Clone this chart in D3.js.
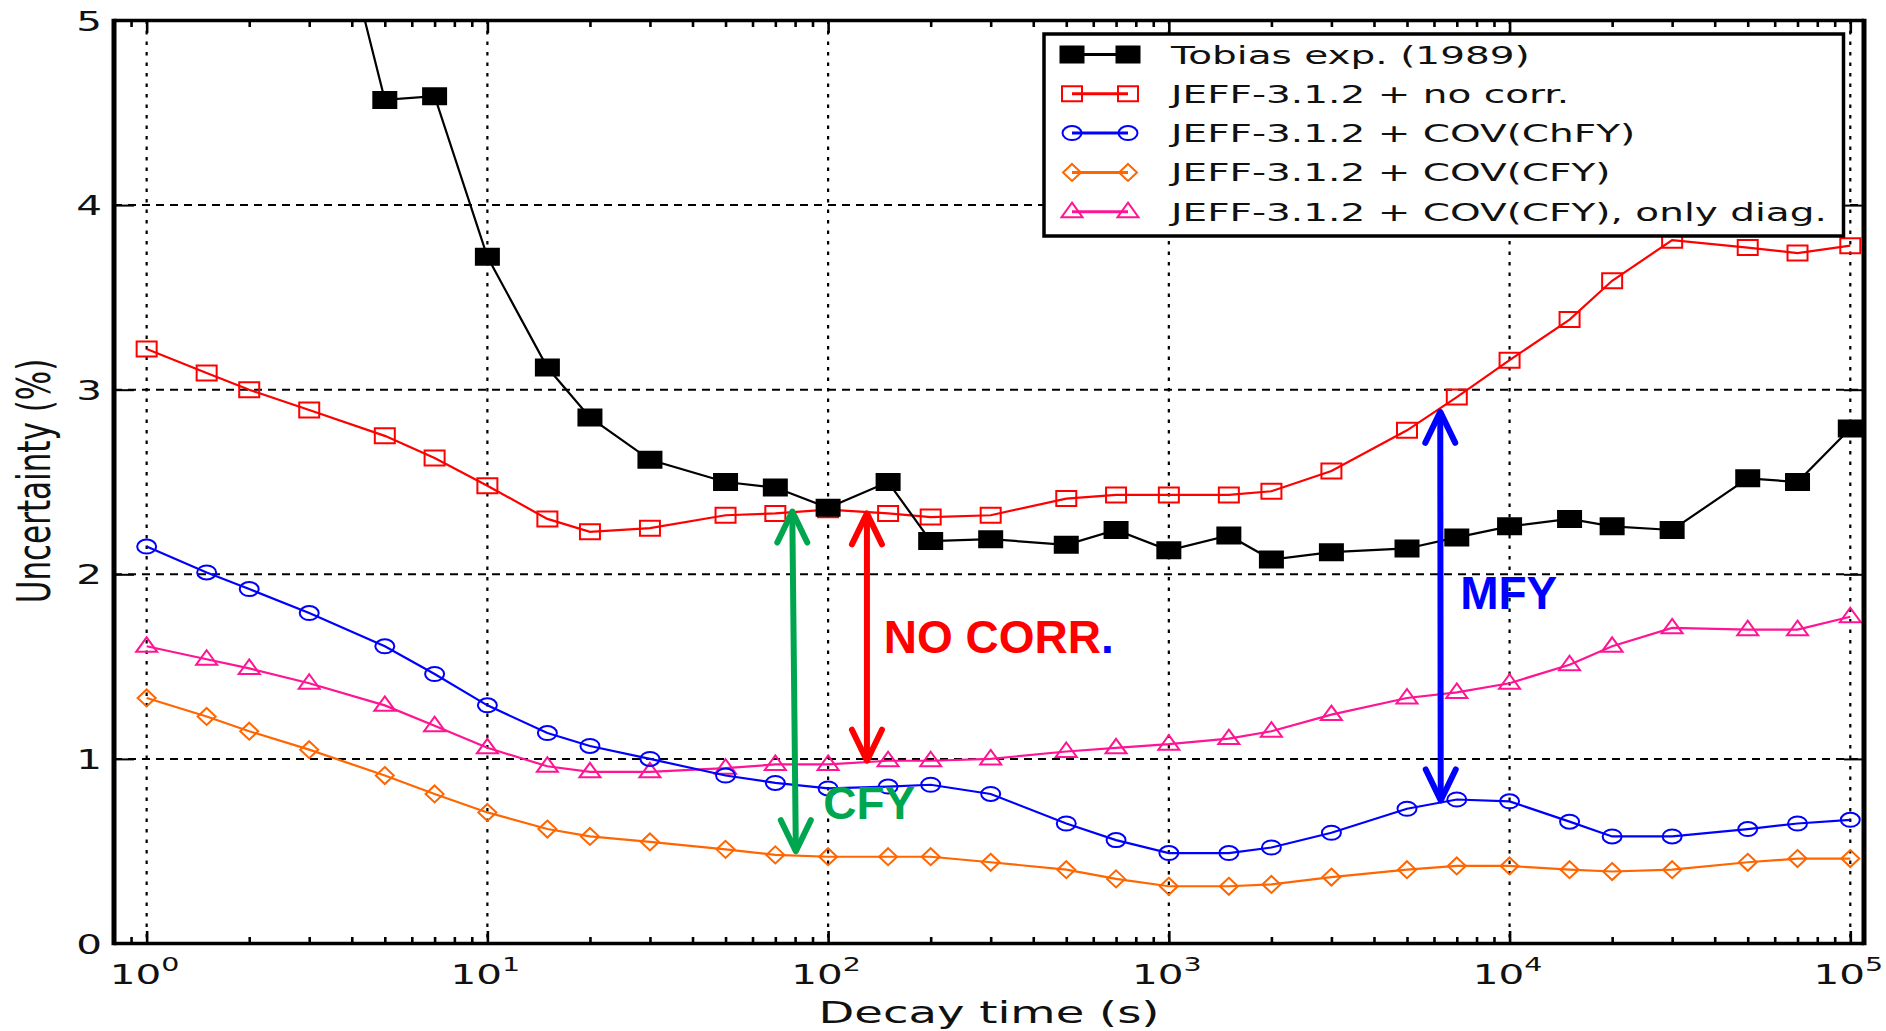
<!DOCTYPE html>
<html>
<head>
<meta charset="utf-8">
<script src="https://cdn.jsdelivr.net/npm/d3@7"></script>
<style>
  body { margin: 0; background: #fff; }
  svg { display: block; }
</style>
</head>
<body>
<svg id="chart"></svg>
<script>
// decay times (s), shared by the JEFF curves
const times = [1, 1.5, 2, 3, 5, 7, 10, 15, 20, 30, 50, 70, 100, 150, 200, 300, 500, 700,
    1000, 1500, 2000, 3000, 5000, 7000, 10000, 15000, 20000, 30000, 50000, 70000, 100000];
const tobiasTimes = [3, 5, 7, 10, 15, 20, 30, 50, 70, 100, 150, 200, 300, 500, 700,
    1000, 1500, 2000, 3000, 5000, 7000, 10000, 15000, 20000, 30000, 50000, 70000, 100000];

const tobias = [6.2, 4.57, 4.59, 3.72, 3.12, 2.85, 2.62, 2.50, 2.47, 2.36, 2.50, 2.18, 2.19, 2.16,
    2.24, 2.13, 2.21, 2.08, 2.12, 2.14, 2.20, 2.26, 2.30, 2.26, 2.24, 2.52, 2.50, 2.79];
const noCorr = [3.22, 3.09, 3.00, 2.89, 2.75, 2.63, 2.48, 2.30, 2.23, 2.25, 2.32, 2.33, 2.35, 2.33, 2.31,
    2.32, 2.41, 2.43, 2.43, 2.43, 2.45, 2.56, 2.78, 2.96, 3.16, 3.38, 3.59, 3.81, 3.77, 3.74, 3.78];
const covChFY = [2.15, 2.01, 1.92, 1.79, 1.61, 1.46, 1.29, 1.14, 1.07, 1.00, 0.91, 0.87, 0.84, 0.85, 0.86,
    0.81, 0.65, 0.56, 0.49, 0.49, 0.52, 0.60, 0.73, 0.78, 0.77, 0.66, 0.58, 0.58, 0.62, 0.65, 0.67];
const covCFY = [1.33, 1.23, 1.15, 1.05, 0.91, 0.81, 0.71, 0.62, 0.58, 0.55, 0.51, 0.48, 0.47, 0.47, 0.47,
    0.44, 0.40, 0.35, 0.31, 0.31, 0.32, 0.36, 0.40, 0.42, 0.42, 0.40, 0.39, 0.40, 0.44, 0.46, 0.46];
const covDiag = [1.61, 1.54, 1.49, 1.41, 1.29, 1.18, 1.06, 0.96, 0.93, 0.93, 0.95, 0.97, 0.97, 0.99, 0.99,
    1.00, 1.04, 1.06, 1.08, 1.11, 1.15, 1.24, 1.33, 1.36, 1.41, 1.51, 1.61, 1.71, 1.70, 1.70, 1.77];

const seriesNames = ["Tobias exp. (1989)", "JEFF-3.1.2 + no corr.", "JEFF-3.1.2 + COV(ChFY)",
    "JEFF-3.1.2 + COV(CFY)", "JEFF-3.1.2 + COV(CFY), only diag."];

const decades = [1, 10, 100, 1000, 10000, 100000];
const yTicks = [0, 1, 2, 3, 4, 5];

// hand-drawn arrows and labels (data units)
const arrows = [
    {x1: 78.5, v1: 2.34, x2: 80.4, v2: 0.50, color: "#00a64f"},
    {x1: 130, v1: 2.33, x2: 130, v2: 0.99, color: "#ff0000"},
    {x1: 6260, v1: 2.88, x2: 6280, v2: 0.775, color: "#0000ff"}
];
const notes = [
    {text: "NO CORR", tail: ".", x: 145.7, v: 1.572, color: "#ff0000"},
    {text: "CFY", tail: "", x: 96.8, v: 0.675, color: "#00a64f"},
    {text: "MFY", tail: "", x: 7160, v: 1.813, color: "#0000ff"}
];

const W = 1886, H = 1031;
const margin = {top: 20.5, right: 22, bottom: 87.5, left: 114};
const iw = W - margin.left - margin.right;
const ih = H - margin.top - margin.bottom;
const SX = 1.5;   // the original figure is stretched sideways

const svg = d3.select("#chart").attr("width", W).attr("height", H);
const g = svg.append("g").attr("transform", `translate(${margin.left},${margin.top})`);

const x = d3.scaleLog().domain([0.802, 109700]).range([0, iw]);
const y = d3.scaleLinear().domain([0, 5]).range([ih, 0]);

svg.append("defs").append("clipPath").attr("id", "plot")
    .append("rect").attr("width", iw).attr("height", ih);

// grid
g.append("g").selectAll("line").data(decades).join("line")
    .attr("x1", d => x(d)).attr("x2", d => x(d)).attr("y1", 0).attr("y2", ih)
    .attr("stroke", "#000").attr("stroke-width", 2.2).attr("stroke-dasharray", "3.5,7");
g.append("g").selectAll("line").data([1, 2, 3, 4]).join("line")
    .attr("x1", 0).attr("x2", iw).attr("y1", d => y(d)).attr("y2", d => y(d))
    .attr("stroke", "#000").attr("stroke-width", 2).attr("stroke-dasharray", "8,6");

// ticks, pointing inwards on all four sides
let minor = [];
[0.1, 1, 10, 100, 1000, 10000, 100000].forEach(dec => {
    for (let k = 2; k < 10; k++) {
        const v = dec * k;
        if (v > x.domain()[0] && v < x.domain()[1]) minor.push(v);
    }
});
function tickAxis(axis, transform, width) {
    const a = g.append("g").attr("transform", transform).call(axis);
    a.select(".domain").remove();
    a.selectAll("line").attr("stroke", "#000").attr("stroke-width", width);
    a.selectAll("text").remove();
}
tickAxis(d3.axisBottom(x).tickValues(decades).tickSize(-12.5), `translate(0,${ih})`, 2.6);
tickAxis(d3.axisBottom(x).tickValues(minor).tickSize(-6.5), `translate(0,${ih})`, 2.6);
tickAxis(d3.axisTop(x).tickValues(decades).tickSize(-12.5), "translate(0,0)", 2.6);
tickAxis(d3.axisTop(x).tickValues(minor).tickSize(-6.5), "translate(0,0)", 2.6);
tickAxis(d3.axisLeft(y).tickValues(yTicks).tickSize(-20), "translate(0,0)", 2);
tickAxis(d3.axisRight(y).tickValues(yTicks).tickSize(-20), `translate(${iw},0)`, 2);

// tick labels
const tickFont = "'DejaVu Sans', 'Bitstream Vera Sans', sans-serif";
const xl = g.append("g").selectAll("text").data(decades).join("text")
    .attr("transform", d => `translate(${x(d) - 2},${ih + 40}) scale(${SX},1)`)
    .attr("text-anchor", "middle").attr("font-family", tickFont).attr("font-size", 27).attr("fill", "#111");
xl.append("tspan").text("10");
xl.append("tspan").attr("dy", -13).attr("font-size", 19).text(d => Math.round(Math.log10(d)));

g.append("g").selectAll("text").data(yTicks).join("text")
    .attr("transform", d => `translate(-12,${y(d) + 10}) scale(${SX},1)`)
    .attr("text-anchor", "end").attr("font-family", tickFont).attr("font-size", 27).attr("fill", "#111")
    .text(d => d);

// axis titles
svg.append("text")
    .attr("transform", `translate(${margin.left + iw / 2},${H - 8}) scale(${SX},1)`)
    .attr("text-anchor", "middle").attr("font-family", tickFont).attr("font-size", 31).attr("fill", "#111")
    .text("Decay time (s)");
svg.append("text")
    .attr("transform", `translate(50,481) scale(${SX},1) rotate(-90)`)
    .attr("text-anchor", "middle").attr("font-family", tickFont).attr("font-size", 31).attr("fill", "#111")
    .text("Uncertainty (%)");

// markers, a bit wider than tall like the reference
function markerPath(shape) {
    switch (shape) {
        case "square": return "M-10,-7.5H10V7.5H-10Z";
        case "bigsquare": return "M-11.5,-8H11.5V8H-11.5Z";
        case "circle": return "M-9.5,0A9.5,7 0 1,0 9.5,0A9.5,7 0 1,0 -9.5,0Z";
        case "diamond": return "M0,-8.5L9,0L0,8.5L-9,0Z";
        case "triangle": return "M0,-9L10.5,5.5H-10.5Z";
    }
}

const series = [
    {name: seriesNames[0], xs: tobiasTimes, vs: tobias, color: "#000000", shape: "bigsquare", fill: true},
    {name: seriesNames[1], xs: times, vs: noCorr, color: "#ff0000", shape: "square"},
    {name: seriesNames[2], xs: times, vs: covChFY, color: "#0000ff", shape: "circle"},
    {name: seriesNames[3], xs: times, vs: covCFY, color: "#ff6600", shape: "diamond"},
    {name: seriesNames[4], xs: times, vs: covDiag, color: "#ff1493", shape: "triangle"}
];

const line = d3.line().x(d => x(d[0])).y(d => y(d[1]));
const plot = g.append("g").attr("clip-path", "url(#plot)");

// draw back to front: diag, CFY, ChFY, no corr, Tobias
series.slice().reverse().forEach(s => {
    const pts = s.xs.map((t, i) => [t, s.vs[i]]);
    plot.append("path").datum(pts).attr("d", line)
        .attr("fill", "none").attr("stroke", s.color).attr("stroke-width", 2.2);
    plot.append("g").selectAll("path").data(pts).join("path")
        .attr("d", markerPath(s.shape))
        .attr("transform", d => `translate(${x(d[0])},${y(d[1])})`)
        .attr("fill", s.fill ? s.color : "none")
        .attr("stroke", s.color).attr("stroke-width", 2);
});

// frame
g.append("line").attr("x1", 0).attr("x2", iw).attr("y1", 0).attr("y2", 0).attr("stroke", "#000").attr("stroke-width", 3.5);
g.append("line").attr("x1", 0).attr("x2", iw).attr("y1", ih).attr("y2", ih).attr("stroke", "#000").attr("stroke-width", 3.5);
g.append("line").attr("x1", 0).attr("x2", 0).attr("y1", -1.7).attr("y2", ih + 1.7).attr("stroke", "#000").attr("stroke-width", 5);
g.append("line").attr("x1", iw).attr("x2", iw).attr("y1", -1.7).attr("y2", ih + 1.7).attr("stroke", "#000").attr("stroke-width", 5);

// legend
const legend = svg.append("g").attr("transform", "translate(1044,34)");
legend.append("rect").attr("width", 799.5).attr("height", 202)
    .attr("fill", "#fff").attr("stroke", "#000").attr("stroke-width", 3.5);
const rows = legend.selectAll("g").data(series).join("g")
    .attr("transform", (d, i) => `translate(0,${20.5 + i * 39.3})`);
rows.append("line").attr("x1", 28).attr("x2", 84)
    .attr("stroke", d => d.color).attr("stroke-width", 3);
rows.each(function (s) {
    d3.select(this).selectAll("path").data([28, 84]).join("path")
        .attr("d", markerPath(s.shape))
        .attr("transform", px => `translate(${px},0)`)
        .attr("fill", s.fill ? s.color : "none")
        .attr("stroke", s.color).attr("stroke-width", 2);
});
rows.append("text")
    .attr("transform", `translate(127,9) scale(1.56,1)`)
    .attr("font-family", tickFont).attr("font-size", 25).attr("fill", "#111")
    .text(d => d.name);

// annotations
const ann = g.append("g");
arrows.forEach(a => {
    const top = [x(a.x1), y(a.v1)], bot = [x(a.x2), y(a.v2)];
    const sg = ann.append("g").attr("stroke", a.color).attr("stroke-width", 6)
        .attr("stroke-linecap", "round").attr("stroke-linejoin", "round").attr("fill", "none");
    sg.append("line").attr("x1", top[0]).attr("y1", top[1] + 2).attr("x2", bot[0]).attr("y2", bot[1] - 2);
    sg.append("path").attr("d", `M${top[0] - 15},${top[1] + 31}L${top[0]},${top[1]}L${top[0] + 15},${top[1] + 31}`);
    sg.append("path").attr("d", `M${bot[0] - 15},${bot[1] - 31}L${bot[0]},${bot[1]}L${bot[0] + 15},${bot[1] - 31}`);
});
notes.forEach(n => {
    const t = ann.append("text")
        .attr("x", x(n.x)).attr("y", y(n.v))
        .attr("font-family", "'Liberation Sans', Arial, sans-serif").attr("font-weight", "bold")
        .attr("font-size", 46).attr("fill", n.color)
        .text(n.text);
    if (n.tail) t.append("tspan").attr("fill", "#0000ff").text(n.tail);
});
</script>
</body>
</html>
